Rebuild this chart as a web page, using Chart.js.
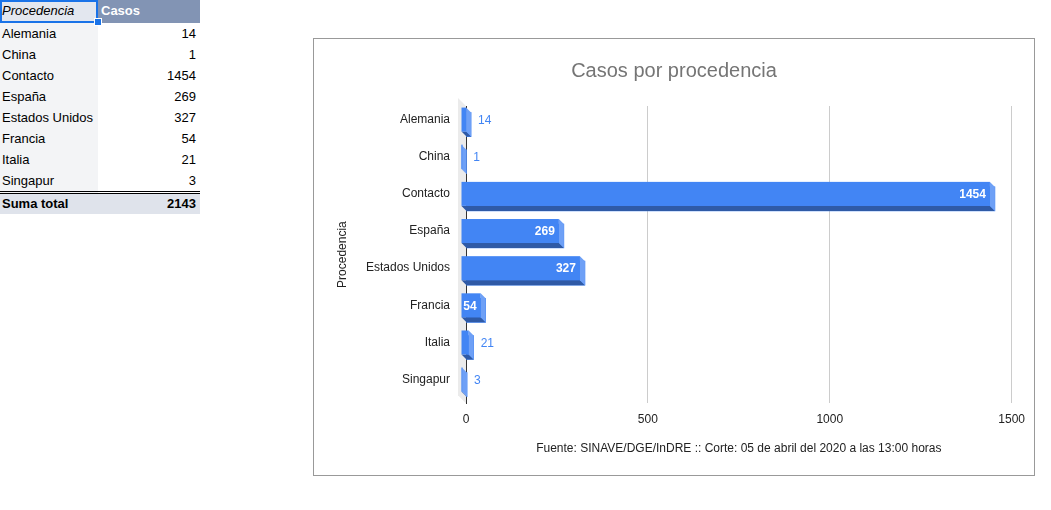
<!DOCTYPE html>
<html>
<head>
<meta charset="utf-8">
<script src="https://cdn.jsdelivr.net/npm/chart.js@4"></script>
<style>
body{margin:0;background:#fff;font-family:"Liberation Sans",Arial,sans-serif;}
#tabla{position:absolute;left:0;top:0;border-collapse:collapse;font-size:13px;color:#000;}
#tabla td{padding:0 4px 0 2px;height:21px;line-height:21px;white-space:nowrap;}
#tabla td.c1{width:92px;background:#f3f4f6;}
#tabla td.c2{width:95px;text-align:right;background:#fff;}
#tabla tr.hd td{height:23px;line-height:21px;vertical-align:top;}
#tabla tr.hd td.c1{background:#e3e7ef;font-style:italic;box-shadow:inset 0 0 0 2px #1a73e8;position:relative;}
#tabla tr.hd td.c2{background:#8294b4;color:#fff;font-weight:bold;text-align:left;padding-left:3px;}
#handle{position:absolute;right:-4px;bottom:-3px;width:6px;height:6px;background:#1a73e8;border:1px solid #fff;}
#tabla tr.tot td{background:#dfe3eb;font-weight:bold;border-top:3px double #000;height:20px;line-height:20px;}
#caja{position:absolute;left:313px;top:38px;width:720px;height:436px;border:1px solid #999;}
</style>
</head>
<body>
<table id="tabla"></table>
<div id="caja"><canvas id="grafica" width="720" height="436"></canvas></div>
<script>
const procedencias = ["Alemania","China","Contacto","España","Estados Unidos","Francia","Italia","Singapur"];
const casos = [14,1,1454,269,327,54,21,3];
const ticksX = [0,500,1000,1500];
const totalCasos = 2143;

// tabla tipo hoja de cálculo
const tabla = document.getElementById("tabla");
let html = '<tr class="hd"><td class="c1">Procedencia<div id="handle"></div></td><td class="c2">Casos</td></tr>';
procedencias.forEach((p,i) => {
  html += '<tr><td class="c1">'+p+'</td><td class="c2">'+casos[i]+'</td></tr>';
});
html += '<tr class="tot"><td class="c1">Suma total</td><td class="c2">'+totalCasos+'</td></tr>';
tabla.innerHTML = html;

const D = 5; // profundidad 3D
const azul = "#4285f4", azulLado = "#6ea0f6", azulBase = "#2f5aa6";

const barras3d = {
  id:"barras3d",
  beforeDatasetsDraw(chart){
    const ctx = chart.ctx, a = chart.chartArea;
    const x0 = chart.scales.x.getPixelForValue(0);
    ctx.save();
    ctx.fillStyle = "#ebebeb";
    ctx.beginPath();
    ctx.moveTo(x0-8, a.top-8);
    ctx.lineTo(x0, a.top);
    ctx.lineTo(x0, a.bottom);
    ctx.lineTo(x0-8, a.bottom-8);
    ctx.closePath();
    ctx.fill();
    ctx.restore();
  },
  afterDatasetsDraw(chart){
    const ctx = chart.ctx;
    const meta = chart.getDatasetMeta(0);
    ctx.save();
    meta.data.forEach((bar,i) => {
      const x1 = bar.x, x0 = bar.base, h = bar.height;
      const y0 = bar.y - h/2, y1 = bar.y + h/2;
      // cara inferior
      ctx.fillStyle = azulBase;
      ctx.beginPath();
      ctx.moveTo(x0-D, y1-D); ctx.lineTo(x1-D, y1-D); ctx.lineTo(x1, y1); ctx.lineTo(x0, y1);
      ctx.closePath(); ctx.fill();
      // cara lateral
      ctx.fillStyle = azulLado;
      ctx.beginPath();
      ctx.moveTo(x1-D, y0-D); ctx.lineTo(x1, y0); ctx.lineTo(x1, y1); ctx.lineTo(x1-D, y1-D);
      ctx.closePath(); ctx.fill();
      // cara frontal
      ctx.fillStyle = azul;
      ctx.fillRect(x0-D, y0-D, Math.max(x1-x0, 1), h);
      if (x1-x0 < 1) {
        ctx.fillStyle = azulLado;
        ctx.fillRect(x0-D, y0-D, 1, h);
      }
      // etiqueta
      const txt = String(casos[i]);
      ctx.textBaseline = "middle";
      const cy = bar.y - D + 1;
      ctx.font = "bold 12px 'Liberation Sans', Arial, sans-serif";
      const w = ctx.measureText(txt).width;
      if (x1 - x0 > w + 4) {
        ctx.fillStyle = "#fff";
        ctx.textAlign = "right";
        ctx.fillText(txt, x1 - D - 4, cy);
      } else {
        ctx.font = "12px 'Liberation Sans', Arial, sans-serif";
        ctx.fillStyle = azul;
        ctx.textAlign = "left";
        ctx.fillText(txt, x1 + 7, cy);
      }
    });
    ctx.restore();
  }
};

new Chart(document.getElementById("grafica"), {
  type:"bar",
  data:{
    labels:procedencias,
    datasets:[{
      label:"Casos",
      data:casos,
      backgroundColor:azul,
      barThickness:24
    }]
  },
  options:{
    responsive:false,
    animation:false,
    indexAxis:"y",
    layout:{padding:{left:21,right:21,top:0,bottom:0}},
    plugins:{
      legend:{display:false},
      tooltip:{enabled:false},
      title:{
        display:true,
        text:"Casos por procedencia",
        color:"#757575",
        font:{family:"'Liberation Sans', Arial, sans-serif",size:20,weight:"normal"},
        padding:{top:20,bottom:23}
      },
      subtitle:{
        display:true,
        position:"bottom",
        fullSize:false,
        text:"Fuente: SINAVE/DGE/InDRE :: Corte: 05 de abril del 2020 a las 13:00 horas",
        color:"#222",
        font:{family:"'Liberation Sans', Arial, sans-serif",size:12,weight:"normal"},
        padding:{top:6,bottom:19}
      }
    },
    scales:{
      x:{
        min:0,
        max:1500,
        afterBuildTicks(scale){ scale.ticks = ticksX.map(v => ({value:v})); },
        grid:{
          drawTicks:false,
          color:ctx => ctx.tick && ctx.tick.value === 0 ? "rgba(0,0,0,0)" : "#cccccc"
        },
        border:{display:false},
        ticks:{
          padding:9,
          color:"#222",
          callback:v => String(v),
          font:{family:"'Liberation Sans', Arial, sans-serif",size:12}
        }
      },
      y:{
        afterFit(scale){ scale.width = 131; },
        grid:{display:false,drawTicks:false},
        border:{display:true,color:"#333",width:1},
        title:{
          display:true,
          text:"Procedencia",
          color:"#222",
          font:{family:"'Liberation Sans', Arial, sans-serif",size:12},
          padding:{top:0,bottom:0}
        },
        ticks:{
          padding:16,
          labelOffset:-5,
          color:"#222",
          font:{family:"'Liberation Sans', Arial, sans-serif",size:12}
        }
      }
    }
  },
  plugins:[barras3d]
});
</script>
</body>
</html>
